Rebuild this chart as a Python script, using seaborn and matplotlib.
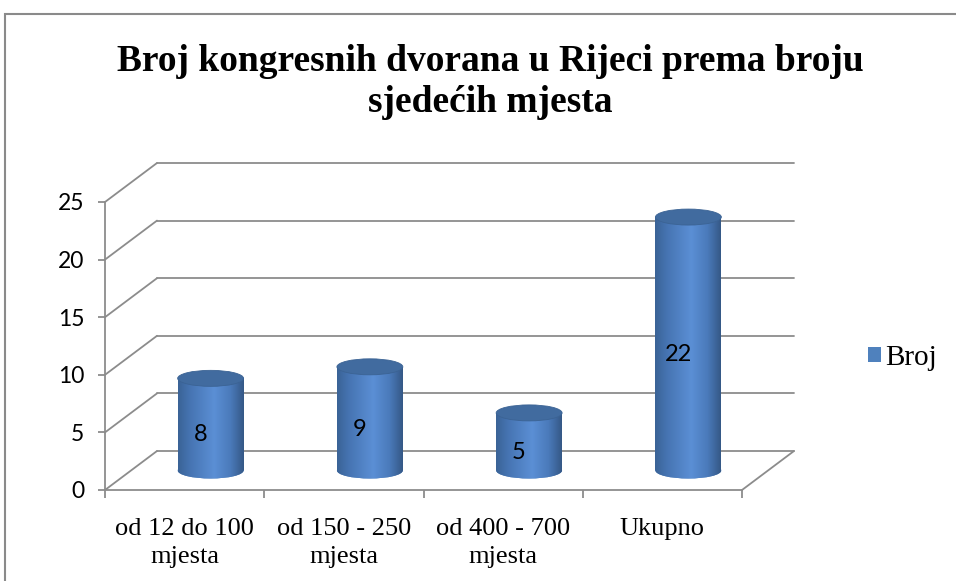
import numpy as np
import matplotlib
matplotlib.use("Agg")
import matplotlib.pyplot as plt
import seaborn as sns
from matplotlib.patches import Ellipse, Rectangle
from matplotlib.colors import LinearSegmentedColormap

# data
categories = ["od 12 do 100\nmjesta", "od 150 - 250\nmjesta", "od 400 - 700\nmjesta", "Ukupno"]
values = [8, 9, 5, 22]
y_ticks = [0, 5, 10, 15, 20, 25]
series_name = "Broj"
title = "Broj kongresnih dvorana u Rijeci prema broju\nsjedećih mjesta"

sns.set_theme(style="white")
plt.rcParams["font.family"] = ["Liberation Serif", "DejaVu Serif"]
plt.rcParams["text.color"] = "black"
plt.rcParams["xtick.labelcolor"] = "black"
plt.rcParams["ytick.labelcolor"] = "black"

W, H, DPI = 956, 581, 100
fig = plt.figure(figsize=(W / DPI, H / DPI), dpi=DPI)
fig.patch.set_facecolor("white")

# front plane of the 3D box (pixels): x 105..742, y 490..202
ax = fig.add_axes([105 / W, (H - 490) / H, 637 / W, 288 / H])
ax.set_facecolor("none")

grid_col = "#8c8c8c"
bar_col = "#4f81bd"
sans = ["Lato", "DejaVu Sans"]

sns.barplot(x=list(range(len(values))), y=values, color=bar_col, width=0.414,
            saturation=1, ax=ax, zorder=2)
ax.set_xlim(-0.5, 3.5)
ax.set_ylim(0, 25)

# depth offset in data units (52 px right, 39 px up)
dx = 52 * 4 / 637
dy = 39 * 25 / 288

# back wall and side wall lines
for t in y_ticks:
    ax.plot([-0.5 + dx, 3.5 + dx], [t + dy, t + dy], color=grid_col, lw=1.3,
            clip_on=False, zorder=0.5)
    ax.plot([-0.5, -0.5 + dx], [t, t + dy], color=grid_col, lw=1.3,
            clip_on=False, zorder=0.5)
ax.plot([3.5, 3.5 + dx], [0, dy], color=grid_col, lw=1.3, clip_on=False, zorder=0.5)

# cylinders
cmap = LinearSegmentedColormap.from_list(
    "cyl", [(0, "#3a6396"), (0.18, "#4674b2"), (0.55, "#5b8fd5"),
            (0.8, "#4a7aba"), (1, "#355886")])
grad = np.linspace(0, 1, 256).reshape(1, -1)
ell_h = 16 * 25 / 288

for p, v in zip(ax.patches, values):
    p.set_x(p.get_x() + dx / 2)
    p.set_y(dy / 2)
    p.set_edgecolor("none")
    x0, w = p.get_x(), p.get_width()
    cx = x0 + w / 2
    bottom = Ellipse((cx, dy / 2), w, ell_h, facecolor=bar_col, edgecolor="none",
                     zorder=1.9, clip_on=False)
    ax.add_patch(bottom)
    im = ax.imshow(grad, cmap=cmap, extent=[x0, x0 + w, dy / 2 - ell_h, v + dy / 2],
                   aspect="auto", zorder=2.05)
    im.set_clip_path(p)
    im2 = ax.imshow(grad, cmap=cmap, extent=[x0, x0 + w, dy / 2 - ell_h, v + dy / 2],
                    aspect="auto", zorder=2.0)
    im2.set_clip_path(bottom)
    ax.add_patch(Ellipse((cx, v + dy / 2), w, ell_h, facecolor="#416b9f",
                         edgecolor="#3b6394", lw=0.6, zorder=2.2, clip_on=False))
    ax.text(cx - 0.065, v / 2 + dy / 2 - 0.9, str(v), ha="center", va="center",
            fontsize=17, family=sans, color="black", zorder=3)

ax.set_xlim(-0.5, 3.5)
ax.set_ylim(0, 25)

# axes / ticks
sns.despine(ax=ax)
for s in ("left", "bottom"):
    ax.spines[s].set_color(grid_col)
    ax.spines[s].set_linewidth(1.3)
ax.set_yticks(y_ticks)
ax.set_yticklabels([str(t) for t in y_ticks], family=sans, fontsize=16.5)
ax.tick_params(axis="y", length=5, width=1.3, color=grid_col, pad=10, left=True)
ax.set_xticks(range(len(categories)))
ax.set_xticklabels(categories, fontsize=19, linespacing=1.35)
ax.set_xticks([-0.5, 0.5, 1.5, 2.5, 3.5], minor=True)
ax.tick_params(axis="x", which="major", length=0, pad=20)
ax.tick_params(axis="x", which="minor", length=6, width=1.3, color=grid_col, bottom=True)
ax.grid(False)

# legend
handle = Rectangle((0, 0), 1, 1, facecolor=bar_col, edgecolor="none")
fig.legend([handle], [series_name], loc="center left", bbox_to_anchor=(868 / W, 1 - 358 / H),
           frameon=False, fontsize=21, handlelength=0.45, handleheight=0.45,
           handletextpad=0.15, borderaxespad=0, borderpad=0)

# title
fig.text(490 / W, 1 - 82 / H, title, ha="center", va="center", fontsize=27,
         fontweight="bold", linespacing=1.2)

# chart border
fig.patches.append(Rectangle((5 / W, -0.1), 1.2, 1.1 - 14 / H, transform=fig.transFigure,
                             fill=False, edgecolor="#8a8a8a", lw=1.5))

fig.savefig("out.png", dpi=DPI)
